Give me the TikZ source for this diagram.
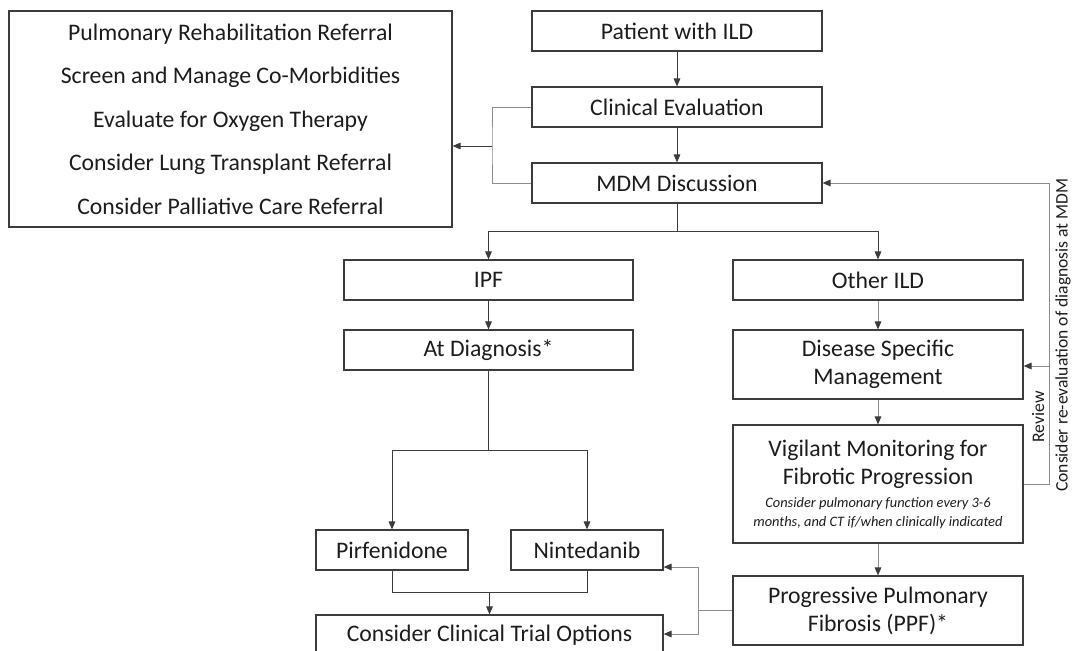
\documentclass[tikz,border=0pt]{standalone}
\usepackage{fontspec}
\setmainfont{Carlito}
\usetikzlibrary{arrows.meta}
\definecolor{boxline}{HTML}{3C3C3C}
\definecolor{darkline}{HTML}{3C3C3C}
\definecolor{lightline}{HTML}{8C8C8C}
\definecolor{inktext}{HTML}{1E1B1C}

\begin{document}
\begin{tikzpicture}[x=0.75pt,y=-0.75pt,
        stepbox/.style={draw=boxline,line width=0.9pt,inner sep=0pt,text=inktext,align=center,
            font=\fontsize{17.8}{21}\selectfont,minimum width=217.5pt,minimum height=30pt},
        darkflow/.style={draw=darkline,line width=0.7pt,-{Triangle[length=6pt,width=5pt,color=darkline]}},
        darkjoin/.style={draw=darkline,line width=0.7pt},
        grayflow/.style={draw=lightline,line width=0.7pt,-{Triangle[length=6pt,width=5pt,color=darkline]}},
        grayjoin/.style={draw=lightline,line width=0.7pt},
        sidelabel/.style={rotate=90,inner sep=0pt,text=inktext}]
    \useasboundingbox (0,0) rectangle (1073,650);
    \clip (0,0) rectangle (1073,650);

    \node[stepbox,minimum width=332.25pt,minimum height=162pt,font=\fontsize{17.8}{32.6}\selectfont] (care) at (230.5,119)
        {Pulmonary Rehabilitation Referral\\Screen and Manage Co-Morbidities\\Evaluate for Oxygen Therapy\\Consider Lung Transplant Referral\\Consider Palliative Care Referral};

    \node[stepbox] (patient) at (677,31) {Patient with ILD};
    \node[stepbox] (clinical) at (677,107) {Clinical Evaluation};
    \node[stepbox] (mdm) at (677,183) {MDM Discussion};

    \node[stepbox,minimum width=216.75pt] (ipf) at (488.5,280) {IPF};
    \node[stepbox,minimum width=216.75pt] (diag) at (488.5,350) {At Diagnosis*};
    \node[stepbox,minimum width=114pt] (pirf) at (392,550) {Pirfenidone};
    \node[stepbox,minimum width=114pt] (ninte) at (587,550) {Nintedanib};
    \node[stepbox,minimum width=260.25pt] (trial) at (489.5,635) {Consider Clinical Trial Options};

    \node[stepbox] (other) at (878,280) {Other ILD};
    \node[stepbox,minimum height=51.75pt] (dsm) at (878,364.5) {Disease Specific\\Management};
    \node[stepbox,minimum height=88.5pt] (vig) at (878,484)
        {Vigilant Monitoring for\\Fibrotic Progression\\[-3.75pt]
        \fontsize{10.8}{14}\selectfont\itshape Consider pulmonary function every 3-6\\[-6.75pt]
        \fontsize{10.8}{14}\selectfont\itshape months, and CT if/when clinically indicated};
    \node[stepbox,minimum height=51.75pt] (ppf) at (878,610.5) {Progressive Pulmonary\\Fibrosis (PPF)*};

    \node[sidelabel,font=\fontsize{13.2}{15}\selectfont] (reviewtxt) at (1038,417) {Review};
    \node[sidelabel,font=\fontsize{13.2}{16}\selectfont] (remdm) at (1063,335) {Consider re-evaluation of diagnosis at MDM};

    \coordinate (bracket) at (492,146);
    \coordinate (split) at (677,231);
    \coordinate (drug) at (488.5,450);
    \coordinate (merge) at (489.5,592);
    \coordinate (loop) at (1049,484);
    \coordinate (review) at (1049,366);
    \coordinate (ppfjoin) at (698,610.5);
    \coordinate (ntop) at (698,567);
    \coordinate (tbot) at (698,634);

    \draw[darkflow] (patient) -- (clinical);
    \draw[darkflow] (clinical) -- (mdm);
    \draw[grayjoin] (clinical.west) -| (bracket) |- (mdm.west);
    \draw[darkflow] (bracket) -- (bracket -| care.east);

    \draw[darkjoin] (mdm) -- (split);
    \draw[darkflow] (split) -| (ipf);
    \draw[darkflow] (split) -| (other);

    \draw[darkflow] (ipf) -- (diag);
    \draw[darkjoin] (diag) -- (drug);
    \draw[darkflow] (drug) -| (pirf);
    \draw[darkflow] (drug) -| (ninte);
    \draw[darkjoin] (pirf) |- (merge) -| (ninte);
    \draw[darkflow] (merge) -- (trial);

    \draw[grayflow] (other) -- (dsm);
    \draw[grayflow] (dsm) -- (vig);
    \draw[grayflow] (vig) -- (ppf);
    \draw[grayflow] (vig.east) -- (loop) |- (mdm.east);
    \draw[grayflow] (review) -- (review -| dsm.east);

    \draw[grayjoin] (ppf.west) -- (ppfjoin);
    \draw[grayflow] (ppfjoin) -- (ntop) -- (ntop -| ninte.east);
    \draw[grayflow] (ppfjoin) -- (tbot) -- (tbot -| trial.east);
\end{tikzpicture}
\end{document}
